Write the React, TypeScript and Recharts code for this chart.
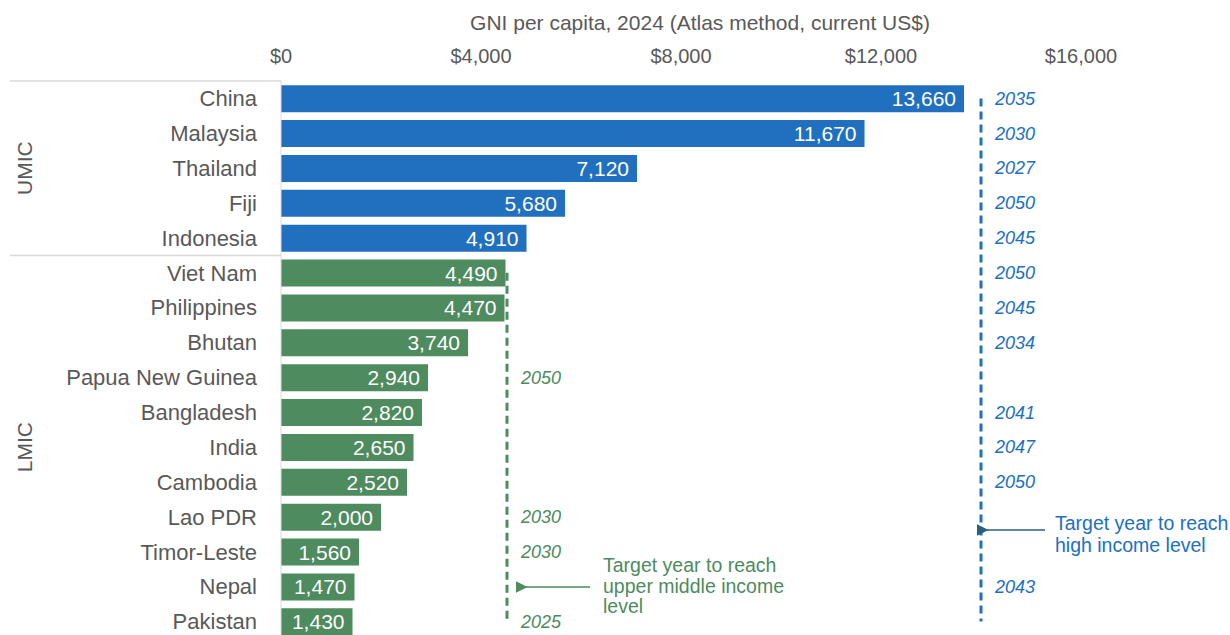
import React from "react";
import {
  ComposedChart,
  Bar,
  Line,
  Cell,
  XAxis,
  YAxis,
  LabelList
} from "recharts";

// data
const countries = [
  "China", "Malaysia", "Thailand", "Fiji", "Indonesia",
  "Viet Nam", "Philippines", "Bhutan", "Papua New Guinea", "Bangladesh",
  "India", "Cambodia", "Lao PDR", "Timor-Leste", "Nepal", "Pakistan"
];
const groups = [
  "UMIC", "UMIC", "UMIC", "UMIC", "UMIC",
  "LMIC", "LMIC", "LMIC", "LMIC", "LMIC",
  "LMIC", "LMIC", "LMIC", "LMIC", "LMIC", "LMIC"
];
const gniValues = [
  13660, 11670, 7120, 5680, 4910,
  4490, 4470, 3740, 2940, 2820,
  2650, 2520, 2000, 1560, 1470, 1430
];
const highIncomeYears = [
  "2035", "2030", "2027", "2050", "2045",
  "2050", "2045", "2034", null, "2041",
  "2047", "2050", null, null, "2043", null
];
const umicYears = [
  null, null, null, null, null,
  null, null, null, "2050", null,
  null, null, "2030", "2030", null, "2025"
];
const xTicks = [0, 4000, 8000, 12000, 16000];
const HIGH_INCOME_LINE = 14000;
const UMIC_LINE = 4520;

const BLUE = "#2170BF";
const GREEN = "#4E8B5E";
const TEXT = "#595959";
const FONT = "'Liberation Sans', Arial, sans-serif";

const chartData = countries.map((c, i) => ({
  country: c,
  gni: gniValues[i],
  group: groups[i],
  hiLine: HIGH_INCOME_LINE,
  hiYear: highIncomeYears[i],
  umLine: groups[i] === "LMIC" ? UMIC_LINE : null,
  umYear: umicYears[i]
}));

const W = 1230;
const H = 640;
const TOP = 81;
const BOTTOM = 1;
const LEFT_AXIS = 281;
const band = (H - TOP - BOTTOM) / countries.length;

const yearLabel = (color: string) => (props: any) => {
  const { x, y, value } = props;
  if (value == null) return null;
  return (
    <text
      x={x + 14}
      y={y}
      dy="0.35em"
      fill={color}
      fontSize={18}
      fontStyle="italic"
      fontFamily={FONT}
    >
      {value}
    </text>
  );
};

export default function App() {
  const umicCount = groups.filter(g => g === "UMIC").length;
  const groupSpans = [
    { name: "UMIC", start: 0, end: umicCount },
    { name: "LMIC", start: umicCount, end: countries.length }
  ];

  return (
    <div style={{ position: "absolute", left: 0, top: 0, width: W, height: 635, overflow: "hidden", fontFamily: FONT }}>
      <ComposedChart
        width={W}
        height={H}
        data={chartData}
        layout="vertical"
        margin={{ top: TOP - 30, right: W - 1081, left: 0, bottom: BOTTOM }}
        barCategoryGap="12%"
      >
        <XAxis
          type="number"
          orientation="top"
          domain={[0, 16000]}
          ticks={xTicks}
          height={30}
          axisLine={false}
          tickLine={false}
          tickSize={0}
          tickMargin={18}
          tick={{ fill: TEXT, fontSize: 20, fontFamily: FONT }}
          tickFormatter={(v: number) => "$" + v.toLocaleString("en-US")}
        />
        <YAxis
          type="category"
          dataKey="country"
          width={LEFT_AXIS}
          axisLine={{ stroke: "#d9d9d9" }}
          tickLine={false}
          tickSize={0}
          tickMargin={24}
          interval={0}
          tick={{ fill: TEXT, fontSize: 22, fontFamily: FONT }}
        />
        <Bar dataKey="gni" isAnimationActive={false}>
          {chartData.map((d, i) => (
            <Cell key={i} fill={d.group === "UMIC" ? BLUE : GREEN} />
          ))}
          <LabelList
            dataKey="gni"
            position="insideRight"
            offset={8}
            fill="#ffffff"
            fontSize={21}
            fontFamily={FONT}
            formatter={(v: any) => Number(v).toLocaleString("en-US")}
          />
        </Bar>
        <Line
          dataKey="hiLine"
          stroke={BLUE}
          strokeWidth={3}
          strokeDasharray="8 5"
          dot={false}
          activeDot={false}
          isAnimationActive={false}
        >
          <LabelList dataKey="hiYear" content={yearLabel(BLUE)} />
        </Line>
        <Line
          dataKey="umLine"
          stroke={GREEN}
          strokeWidth={3}
          strokeDasharray="8 5"
          dot={false}
          activeDot={false}
          connectNulls={false}
          isAnimationActive={false}
        >
          <LabelList dataKey="umYear" content={yearLabel(GREEN)} />
        </Line>
      </ComposedChart>

      <svg width={W} height={635} style={{ position: "absolute", left: 0, top: 0, pointerEvents: "none" }}>
        <defs>
          <marker id="arrG" markerWidth="8" markerHeight="8" refX="1" refY="4" orient="auto">
            <path d="M8,0 L0,4 L8,8 z" fill={GREEN} />
          </marker>
          <marker id="arrB" markerWidth="8" markerHeight="8" refX="1" refY="4" orient="auto">
            <path d="M8,0 L0,4 L8,8 z" fill="#2A5F80" />
          </marker>
        </defs>
        <text x={700} y={23} dy="0.35em" textAnchor="middle" fill={TEXT} fontSize={21} fontFamily={FONT}>
          GNI per capita, 2024 (Atlas method, current US$)
        </text>
        {groupSpans.map(g => {
          const y0 = TOP + g.start * band;
          const yc = TOP + ((g.start + g.end) / 2) * band;
          return (
            <g key={g.name}>
              <line x1={10} x2={LEFT_AXIS} y1={y0} y2={y0} stroke="#d9d9d9" strokeWidth={1.5} />
              <text
                x={25}
                y={yc}
                transform={`rotate(-90 25 ${yc})`}
                textAnchor="middle"
                dy="0.35em"
                fill={TEXT}
                fontSize={21}
                fontFamily={FONT}
              >
                {g.name}
              </text>
            </g>
          );
        })}
        <line x1={590} y1={587} x2={526} y2={587} stroke={GREEN} strokeWidth={1.5} markerEnd="url(#arrG)" />
        <text fill={GREEN} fontSize={19.5} fontFamily={FONT}>
          <tspan x={603} y={572}>Target year to reach</tspan>
          <tspan x={603} y={593}>upper middle income</tspan>
          <tspan x={603} y={613}>level</tspan>
        </text>
        <line x1={1045} y1={530} x2={987} y2={530} stroke="#2A5F80" strokeWidth={1.5} markerEnd="url(#arrB)" />
        <text fill={BLUE} fontSize={19.5} fontFamily={FONT}>
          <tspan x={1055} y={530}>Target year to reach</tspan>
          <tspan x={1055} y={552}>high income level</tspan>
        </text>
      </svg>
    </div>
  );
}
